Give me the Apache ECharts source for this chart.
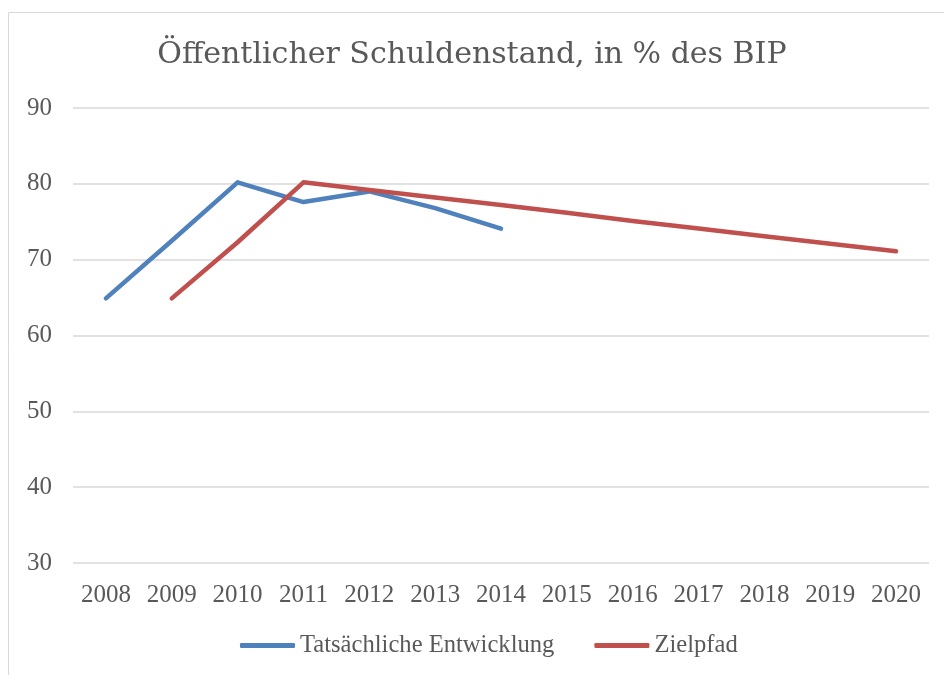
<!DOCTYPE html>
<html>
<head>
<meta charset="utf-8">
<script src="https://cdn.jsdelivr.net/npm/echarts@6/dist/echarts.min.js"></script>
<style>
  html, body { margin: 0; padding: 0; background: #fff; }
  #box { width: 944px; height: 675px; }
</style>
</head>
<body>
<div id="box"></div>
<script>
var years = ['2008', '2009', '2010', '2011', '2012', '2013', '2014',
             '2015', '2016', '2017', '2018', '2019', '2020'];
var tatsaechlich = [64.9, 72.5, 80.2, 77.6, 79.0, 76.8, 74.1,
                    null, null, null, null, null, null];
var zielpfad = [null, 64.9, 72.3, 80.2, 79.2, 78.2, 77.2,
                76.2, 75.1, 74.1, 73.1, 72.1, 71.1];
var seriesNames = ['Tatsächliche Entwicklung', 'Zielpfad'];

var font = '"Liberation Serif", "DejaVu Serif", serif';
var myChart = echarts.init(document.getElementById('box'));

myChart.setOption({
    color: ['#4f81bd', '#c0504d'],
    animation: false,
    graphic: [{
        type: 'rect',
        shape: { x: 8.5, y: 12.5, width: 1000, height: 1000 },
        style: { fill: 'none', stroke: '#d9d9d9', lineWidth: 1 },
        silent: true
    }],
    title: {
        text: 'Öffentlicher Schuldenstand, in % des BIP',
        left: 'center',
        top: 35,
        textStyle: {
            fontFamily: '"DejaVu Serif", serif',
            fontSize: 30,
            fontWeight: 'normal',
            color: '#595959'
        }
    },
    legend: {
        data: seriesNames,
        left: 235,
        top: 628,
        icon: 'roundRect',
        itemWidth: 55,
        itemHeight: 5,
        itemGap: 40,
        itemStyle: { borderWidth: 0 },
        textStyle: {
            fontFamily: font,
            fontSize: 24.6,
            color: '#595959'
        }
    },
    grid: {
        left: 73,
        right: 15,
        top: 108,
        bottom: 112
    },
    xAxis: {
        type: 'category',
        data: years,
        boundaryGap: true,
        axisLine: { show: false },
        axisTick: { show: false },
        axisLabel: {
            margin: 20,
            fontFamily: font,
            fontSize: 25,
            color: '#595959'
        }
    },
    yAxis: {
        type: 'value',
        min: 30,
        max: 90,
        interval: 10,
        axisLine: { show: false },
        axisTick: { show: false },
        splitLine: { lineStyle: { color: '#d9d9d9', width: 1.5 } },
        axisLabel: {
            margin: 21,
            fontFamily: font,
            fontSize: 25,
            color: '#595959'
        }
    },
    series: [{
        name: seriesNames[0],
        type: 'line',
        data: tatsaechlich,
        symbol: 'none',
        connectNulls: false,
        lineStyle: { width: 4.5, cap: 'round', join: 'round' }
    }, {
        name: seriesNames[1],
        type: 'line',
        data: zielpfad,
        symbol: 'none',
        connectNulls: false,
        lineStyle: { width: 4.5, cap: 'round', join: 'round' }
    }]
});
</script>
</body>
</html>
